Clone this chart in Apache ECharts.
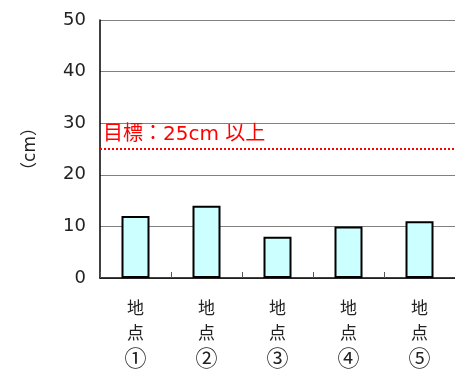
<!DOCTYPE html>
<html>
<head>
<meta charset="utf-8">
<script src="https://cdn.jsdelivr.net/npm/echarts@6/dist/echarts.min.js"></script>
<style>
  html, body { margin: 0; padding: 0; background: #fff; }
  #chart { width: 455px; height: 370px; }
</style>
</head>
<body>
<div id="chart"></div>
<script>
// Survey points and measured values (cm)
const categories = ['地点①', '地点②', '地点③', '地点④', '地点⑤'];
const values = [12, 14, 8, 10, 11];
const yTicks = [0, 10, 20, 30, 40, 50];
const targetValue = 25;
const targetLabel = '目標：25cm 以上';
const yAxisName = '（cm）';

const CJK = '"Noto Sans CJK JP", sans-serif';
const MIXED = '"DejaVu Sans", "Noto Sans CJK JP", sans-serif';

const chart = echarts.init(document.getElementById('chart'), null, { renderer: 'canvas' });
chart.setOption({
  animation: false,
  backgroundColor: '#ffffff',
  grid: { left: 100, right: 0, top: 20, bottom: 91.5 },
  xAxis: {
    type: 'category',
    data: categories,
    axisLine: { lineStyle: { color: '#000', width: 1.5 } },
    axisTick: { show: true, inside: true, length: 6, lineStyle: { color: '#555' } },
    axisLabel: {
      margin: 17,
      fontFamily: CJK,
      fontSize: 17,
      color: '#222',
      lineHeight: 25,
      // stack the characters vertically, enlarge the circled number
      formatter: v => {
        const chars = v.split('');
        const num = chars.pop();
        return chars.join('\n') + '\n{n|' + num + '}';
      },
      rich: {
        n: { fontFamily: CJK, fontSize: 22, lineHeight: 25, color: '#222' }
      }
    }
  },
  yAxis: {
    type: 'value',
    min: yTicks[0],
    max: yTicks[yTicks.length - 1],
    interval: 10,
    name: yAxisName,
    nameLocation: 'middle',
    nameRotate: 90,
    nameGap: 61,
    nameTextStyle: { fontFamily: MIXED, fontSize: 17, color: '#222' },
    axisLine: { show: true, lineStyle: { color: '#000', width: 1.5 } },
    axisTick: { show: false },
    axisLabel: { margin: 14, fontFamily: MIXED, fontSize: 18, color: '#222' },
    splitLine: { lineStyle: { color: '#808080', width: 1 } }
  },
  series: [{
    type: 'bar',
    data: values,
    barWidth: 28,
    itemStyle: { color: '#ccffff', borderColor: '#000', borderWidth: 2 },
    markLine: {
      silent: true,
      symbol: 'none',
      lineStyle: { color: '#ff0000', type: [2, 2], width: 2 },
      label: {
        show: true,
        position: 'insideStartTop',
        distance: [3, 4],
        formatter: targetLabel,
        fontFamily: MIXED,
        fontSize: 20,
        color: '#ff0000'
      },
      data: [{ yAxis: targetValue }]
    }
  }]
});
</script>
</body>
</html>
